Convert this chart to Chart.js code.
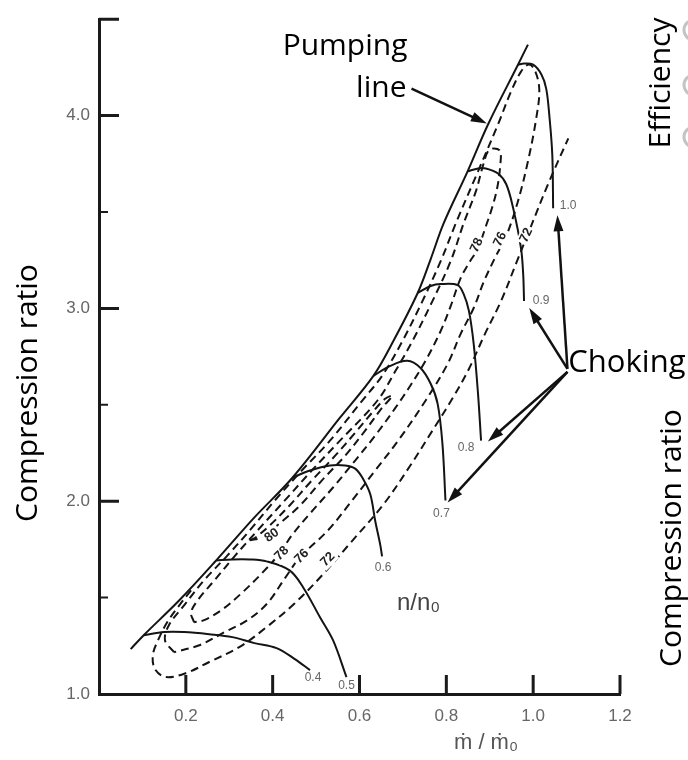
<!DOCTYPE html>
<html>
<head>
<meta charset="utf-8">
<script src="https://cdn.jsdelivr.net/npm/chart.js@4.4.1/dist/chart.umd.min.js"></script>
<style>
body { margin: 0; background: #fff; }
#wrap { width: 688px; height: 760px; }
</style>
</head>
<body>
<div id="wrap"><canvas id="mapa" width="688" height="760"></canvas></div>
<script>
const surgeLine = [[0.073,1.233],[0.103,1.305],[0.185,1.486],[0.270,1.693],[0.358,1.916],[0.446,2.123],[0.555,2.433],[0.632,2.650],[0.678,2.831],[0.734,3.080],[0.764,3.256],[0.794,3.442],[0.849,3.711],[0.896,3.954],[0.965,4.264],[0.988,4.368]];

// lineas de velocidad n/n0
const speed04 = [[0.103,1.305],[0.150,1.321],[0.196,1.321],[0.254,1.310],[0.307,1.295],[0.358,1.264],[0.409,1.238],[0.451,1.181],[0.486,1.124]];
const speed05 = [[0.270,1.693],[0.307,1.698],[0.347,1.698],[0.386,1.688],[0.439,1.641],[0.470,1.554],[0.509,1.398],[0.539,1.279],[0.570,1.088]];
const speed06 = [[0.446,2.123],[0.486,2.159],[0.532,2.185],[0.567,2.185],[0.590,2.169],[0.608,2.117],[0.625,2.035],[0.636,1.900],[0.648,1.771],[0.652,1.714]];
const speed07 = [[0.632,2.650],[0.671,2.702],[0.710,2.728],[0.740,2.692],[0.764,2.609],[0.780,2.505],[0.791,2.299],[0.798,2.004]];
const speed08 = [[0.734,3.080],[0.764,3.116],[0.787,3.126],[0.826,3.121],[0.840,3.074],[0.852,2.987],[0.863,2.816],[0.873,2.557],[0.880,2.314]];
const speed09 = [[0.849,3.711],[0.873,3.726],[0.891,3.726],[0.919,3.700],[0.938,3.644],[0.954,3.519],[0.972,3.312],[0.977,3.178],[0.979,3.038]];
const speed10 = [[0.965,4.264],[0.979,4.270],[1.000,4.264],[1.019,4.213],[1.030,4.140],[1.037,4.006],[1.044,3.799],[1.046,3.519]];
const speedNames = ['0.4', '0.5', '0.6', '0.7', '0.8', '0.9', '1.0'];

// curvas de rendimiento (islas)
const eff72 = [[0.212,1.538],[0.185,1.460],[0.157,1.372],[0.136,1.279],[0.124,1.202],[0.129,1.129],[0.154,1.088],[0.201,1.109],[0.254,1.166],[0.323,1.243],[0.386,1.347],[0.451,1.471],[0.514,1.616],[0.578,1.781],[0.655,1.983],[0.717,2.185],[0.768,2.366],[0.815,2.536],[0.852,2.686],[0.889,2.868],[0.926,3.038],[0.961,3.235],[0.995,3.426],[1.037,3.659],[1.081,3.882]];
const eff76 = [[0.173,1.217],[0.152,1.279],[0.161,1.357],[0.196,1.460],[0.242,1.590],[0.296,1.719],[0.347,1.848],[0.405,2.004],[0.467,2.159],[0.532,2.314],[0.606,2.521],[0.652,2.650],[0.699,2.831],[0.745,3.038],[0.787,3.245],[0.822,3.442],[0.873,3.711],[0.919,3.954],[0.949,4.125],[0.972,4.228],[0.988,4.264],[1.002,4.244],
  [1.014,4.140],[1.007,3.985],[0.988,3.763],[0.965,3.556],[0.938,3.375],[0.914,3.271],[0.887,3.142],[0.863,3.002],[0.833,2.868],[0.803,2.712],[0.752,2.521],[0.689,2.314],[0.636,2.159],[0.583,2.004],[0.527,1.848],[0.463,1.709],[0.428,1.600],[0.388,1.471],[0.342,1.383],[0.289,1.321],[0.231,1.253],[0.173,1.217]];
const eff78 = [[0.219,1.372],[0.212,1.424],[0.231,1.497],[0.266,1.590],[0.314,1.719],[0.365,1.848],[0.428,2.004],[0.490,2.159],[0.555,2.314],[0.641,2.521],[0.683,2.676],[0.722,2.831],[0.768,3.038],[0.810,3.245],[0.840,3.442],[0.868,3.607],[0.884,3.737],[0.896,3.815],[0.910,3.830],[0.924,3.815],
  [0.924,3.737],[0.917,3.623],[0.905,3.519],[0.891,3.426],[0.873,3.312],[0.852,3.235],[0.833,3.157],[0.810,3.012],[0.787,2.883],[0.752,2.728],[0.717,2.599],[0.683,2.485],[0.636,2.340],[0.590,2.211],[0.539,2.071],[0.486,1.936],[0.444,1.823],[0.416,1.729],[0.375,1.626],[0.328,1.522],[0.282,1.435],[0.242,1.383],[0.219,1.372]];
const eff80 = [[0.347,1.797],[0.375,1.812],[0.416,1.885],[0.463,1.978],[0.513,2.107],[0.567,2.236],[0.613,2.366],[0.652,2.485],[0.676,2.547],[0.659,2.531],[0.629,2.459],[0.590,2.355],[0.544,2.236],[0.490,2.107],[0.439,1.978],[0.393,1.874],[0.358,1.807],[0.347,1.797]];

// etiquetas de rendimiento: texto, m/m0, relacion, giro
const effLabels = [['80',0.398,1.823,-35],['78',0.421,1.729,-45],['76',0.467,1.714,-45],['72',0.527,1.698,-45],['78',0.870,3.328,-65],['76',0.924,3.359,-65],['72',0.984,3.380,-65]];

const xTicks = [0.2, 0.4, 0.6, 0.8, 1.0, 1.2];
const yTicks = [1.0, 2.0, 3.0, 4.0];
const yMajorMarks = [2.0, 3.0, 4.0, 4.5];
const yMinorMarks = [1.5, 2.5, 3.5];

function puntos(arr) {
    return arr.map(p => ({ x: p[0], y: p[1] }));
}

function serie(arr, dashed) {
    return {
        data: puntos(arr),
        showLine: true,
        borderColor: '#141414',
        borderWidth: 2,
        borderDash: dashed ? [8, 5] : [],
        pointRadius: 0,
        tension: 0.35,
        fill: false
    };
}

function flecha(ctx, x1, y1, x2, y2) {
    const a = Math.atan2(y2 - y1, x2 - x1);
    const c = Math.cos(a), s = Math.sin(a);
    ctx.beginPath();
    ctx.moveTo(x1, y1);
    ctx.lineTo(x2 - 10 * c, y2 - 10 * s);
    ctx.stroke();
    ctx.beginPath();
    ctx.moveTo(x2, y2);
    ctx.lineTo(x2 - 16 * c + 5 * s, y2 - 16 * s - 5 * c);
    ctx.lineTo(x2 - 16 * c - 5 * s, y2 - 16 * s + 5 * c);
    ctx.closePath();
    ctx.fill();
}

function textoVertical(ctx, txt, x, y) {
    ctx.save();
    ctx.translate(x, y);
    ctx.rotate(-Math.PI / 2);
    ctx.textAlign = 'center';
    ctx.textBaseline = 'alphabetic';
    ctx.fillText(txt, 0, 0);
    ctx.restore();
}

const decoracion = {
    id: 'decoracion',
    afterDraw(chart) {
        const ctx = chart.ctx;
        const area = chart.chartArea;
        const px = v => chart.scales.x.getPixelForValue(v);
        const py = v => chart.scales.y.getPixelForValue(v);

        ctx.save();
        // marcas hacia dentro
        ctx.strokeStyle = '#1a1a1a';
        ctx.lineWidth = 3;
        ctx.beginPath();
        xTicks.forEach(v => { ctx.moveTo(px(v), area.bottom); ctx.lineTo(px(v), area.bottom - 19); });
        yMajorMarks.forEach(v => { ctx.moveTo(area.left, py(v)); ctx.lineTo(area.left + 20, py(v)); });
        ctx.stroke();
        ctx.lineWidth = 2;
        ctx.beginPath();
        yMinorMarks.forEach(v => { ctx.moveTo(area.left, py(v)); ctx.lineTo(area.left + 9, py(v)); });
        ctx.stroke();

        // etiquetas de rendimiento
        ctx.font = 'bold 13px "Liberation Sans", Arial, sans-serif';
        ctx.textAlign = 'center';
        ctx.textBaseline = 'middle';
        effLabels.forEach(l => {
            ctx.save();
            ctx.translate(px(l[1]), py(l[2]));
            ctx.rotate(l[3] * Math.PI / 180);
            const w = ctx.measureText(l[0]).width;
            ctx.fillStyle = '#fff';
            ctx.fillRect(-w / 2 - 2, -7, w + 4, 14);
            ctx.fillStyle = '#222';
            ctx.fillText(l[0], 0, 0);
            ctx.restore();
        });

        // etiquetas n/n0 al final de cada linea
        const offs = [[3, 8], [0, 9], [1, 11], [-4, 13], [-15, 7], [17, 0], [15, -3]];
        const speeds = [speed04, speed05, speed06, speed07, speed08, speed09, speed10];
        ctx.font = '12px "Liberation Sans", Arial, sans-serif';
        ctx.fillStyle = '#666';
        speeds.forEach((arr, i) => {
            const last = arr[arr.length - 1];
            ctx.fillText(speedNames[i], px(last[0]) + offs[i][0], py(last[1]) + offs[i][1]);
        });

        ctx.font = '24px "Liberation Sans", Arial, sans-serif';
        ctx.fillStyle = '#444';
        ctx.fillText('n/n\u2080', px(0.736), py(1.471));

        // titulo eje x
        ctx.font = '22px "Liberation Sans", "DejaVu Sans", sans-serif';
        ctx.fillStyle = '#555';
        ctx.textBaseline = 'alphabetic';
        ctx.fillText('\u1E41 / \u1E41\u2080', 486, 749);

        // textos grandes
        ctx.fillStyle = '#000';
        ctx.font = '30px "Open Sans", sans-serif';
        ctx.textAlign = 'right';
        ctx.fillText('Pumping', px(0.7105), py(4.316));
        ctx.fillText('line', px(0.7082), py(4.094));
        ctx.textAlign = 'left';
        ctx.font = '31px "Open Sans", sans-serif';
        ctx.fillText('Choking', px(1.081), py(2.671));

        ctx.font = '30px "Open Sans", sans-serif';
        textoVertical(ctx, 'Compression ratio', 37, 393);
        textoVertical(ctx, 'Compression ratio', 681, 538);
        textoVertical(ctx, 'Efficiency', 670, 83);

        // circulos grises cortados en el borde
        ctx.strokeStyle = '#c4c4c4';
        ctx.lineWidth = 3;
        [30, 85, 137].forEach(cy => {
            ctx.beginPath();
            ctx.arc(694, cy, 10, 0, Math.PI * 2);
            ctx.stroke();
        });

        // flechas
        ctx.strokeStyle = '#111';
        ctx.fillStyle = '#111';
        ctx.lineWidth = 2.5;
        flecha(ctx, px(0.7198), py(4.140), px(0.8934), py(3.959));
        const ox = px(1.079), oy = py(2.6865);
        flecha(ctx, ox, oy, px(1.0559), py(3.483));
        flecha(ctx, ox, oy, px(0.9910), py(3.002));
        flecha(ctx, ox, oy + 3, px(0.8957), py(2.309));
        flecha(ctx, ox, oy + 3, px(0.8030), py(1.993));
        ctx.restore();
    }
};

function main() {
    const ctx = document.getElementById('mapa').getContext('2d');
    const datasets = [
        serie(surgeLine, false),
        serie(speed04, false), serie(speed05, false), serie(speed06, false), serie(speed07, false),
        serie(speed08, false), serie(speed09, false), serie(speed10, false),
        serie(eff72, true), serie(eff76, true), serie(eff78, true), serie(eff80, true)
    ];
    const ejeComun = {
        type: 'linear',
        grid: { display: false, drawTicks: false },
        border: { display: true, color: '#1a1a1a', width: 3 },
    };
    new Chart(ctx, {
        type: 'scatter',
        data: { datasets: datasets },
        options: {
            responsive: false,
            animation: false,
            layout: { padding: { top: 17, right: 68, left: 0, bottom: 0 } },
            plugins: { legend: { display: false }, tooltip: { enabled: false } },
            scales: {
                x: Object.assign({}, ejeComun, {
                    min: 0, max: 1.2,
                    afterBuildTicks: s => { s.ticks = xTicks.map(v => ({ value: v })); },
                    afterFit: s => { s.height = 66; },
                    ticks: { color: '#666', font: { family: 'Liberation Sans', size: 17 }, padding: 12, maxRotation: 0, autoSkip: false, callback: v => v.toFixed(1) }
                }),
                y: Object.assign({}, ejeComun, {
                    min: 1, max: 4.5,
                    afterBuildTicks: s => { s.ticks = yTicks.map(v => ({ value: v })); },
                    afterFit: s => { s.width = 99; },
                    ticks: { color: '#666', font: { family: 'Liberation Sans', size: 17 }, padding: 9, autoSkip: false, callback: v => v.toFixed(1) }
                })
            }
        },
        plugins: [decoracion]
    });
}

document.addEventListener('DOMContentLoaded', function() {
    main();
});
</script>
</body>
</html>
